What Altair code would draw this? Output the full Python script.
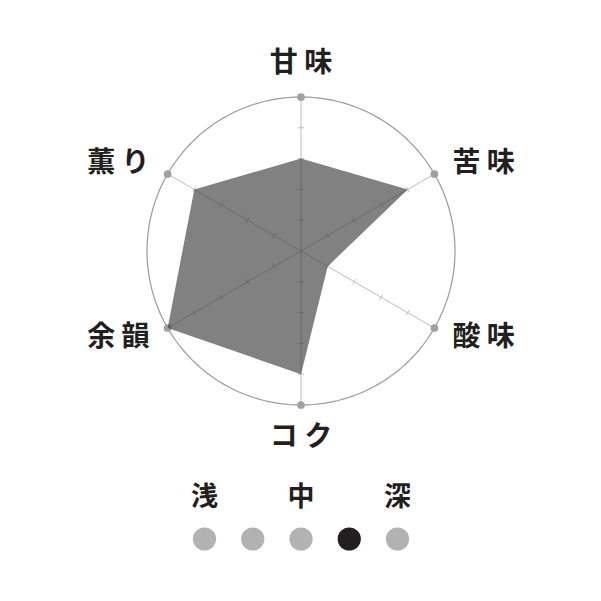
import altair as alt
import numpy as np
import pandas as pd

# ---- data ----
categories = ["甘味", "苦味", "酸味", "コク", "余韻", "薫り"]
values = [3, 4, 1, 4, 5, 4]
max_value = 5
tick_values = [1, 2, 3, 4]
roast_labels = ["浅", "中", "深"]
roast_label_slots = [0, 2, 4]
roast_slots = [0, 1, 2, 3, 4]
roast_selected = 3

# ---- geometry helpers (data units) ----
k = 154 / 5.0  # px per unit
W, H = 585, 585
cx, cy = 293, 243
xdom = [-cx / k, (W - cx) / k]
ydom = [-(H - cy) / k, cy / k]
sx = alt.Scale(domain=xdom, nice=False, zero=False)
sy = alt.Scale(domain=ydom, nice=False, zero=False)

ang = [np.deg2rad(90 - 60 * i) for i in range(len(categories))]

# outer circle
t = np.linspace(0, 2 * np.pi, 241)
circle = pd.DataFrame({"x": max_value * np.cos(t), "y": max_value * np.sin(t), "o": np.arange(len(t))})

# spokes
spokes = pd.DataFrame({
    "x": [0.0] * 6, "y": [0.0] * 6,
    "x2": [max_value * np.cos(a) for a in ang],
    "y2": [max_value * np.sin(a) for a in ang],
})

# tick marks
tick_rows = []
hl = 0.1
for a in ang:
    for v in tick_values:
        px, py = v * np.cos(a), v * np.sin(a)
        nx, ny = -np.sin(a), np.cos(a)
        tick_rows.append({"x": px - hl * nx, "y": py - hl * ny, "x2": px + hl * nx, "y2": py + hl * ny})
ticks = pd.DataFrame(tick_rows)

# end dots
ends = pd.DataFrame({"x": [max_value * np.cos(a) for a in ang], "y": [max_value * np.sin(a) for a in ang]})

# polygon
poly = pd.DataFrame({
    "x": [v * np.cos(a) for v, a in zip(values + [values[0]], ang + [ang[0]])],
    "y": [v * np.sin(a) for v, a in zip(values + [values[0]], ang + [ang[0]])],
    "o": list(range(len(values) + 1)),
})

# labels
lab_rows = []
for i, (c, a) in enumerate(zip(categories, ang)):
    r = 6.07 if i in (0, 3) else 5.68
    align = "center" if i in (0, 3) else ("left" if i in (1, 2) else "right")
    lab_rows.append({"x": r * np.cos(a), "y": r * np.sin(a), "t": " ".join(list(c)), "al": align})
labels = pd.DataFrame(lab_rows)

# roast legend
sp = 48.25 / k
roast_dots = pd.DataFrame({
    "x": [(s - 2) * sp for s in roast_slots],
    "y": [-288 / k] * len(roast_slots),
    "sel": ["y" if s == roast_selected else "n" for s in roast_slots],
})
roast_text = pd.DataFrame({
    "x": [(s - 2) * sp for s in roast_label_slots],
    "y": [-247 / k] * len(roast_labels),
    "t": roast_labels,
})

X = lambda f="x": alt.X(f"{f}:Q", scale=sx, axis=None)
Y = lambda f="y": alt.Y(f"{f}:Q", scale=sy, axis=None)

circle_l = alt.Chart(circle).mark_line(color="#9a9a9a", strokeWidth=1.2).encode(x=X(), y=Y(), order="o:Q")
spoke_l = alt.Chart(spokes).mark_rule(color="#bdbdbd", strokeWidth=1).encode(x=X(), y=Y(), x2="x2:Q", y2="y2:Q")
tick_l = alt.Chart(ticks).mark_rule(color="#bdbdbd", strokeWidth=1).encode(x=X(), y=Y(), x2="x2:Q", y2="y2:Q")
end_l = alt.Chart(ends).mark_circle(color="#a0a0a0", opacity=1, size=60).encode(x=X(), y=Y())
poly_l = alt.Chart(poly).mark_line(fill="#3a3a3a", fillOpacity=0.64, strokeWidth=0, stroke="#3a3a3a").encode(x=X(), y=Y(), order="o:Q")

lab_layers = []
for al in ["center", "left", "right"]:
    sub = labels[labels["al"] == al]
    lab_layers.append(
        alt.Chart(sub).mark_text(align=al, baseline="middle", font="Noto Sans CJK JP", fontSize=28,
                                 fontWeight="bold", color="#231f20").encode(x=X(), y=Y(), text="t:N")
    )

rdots = alt.Chart(roast_dots).mark_circle(size=540, opacity=1).encode(
    x=X(), y=Y(),
    color=alt.Color("sel:N", scale=alt.Scale(domain=["n", "y"], range=["#b2b2b2", "#231f20"]), legend=None),
)
rtext = alt.Chart(roast_text).mark_text(align="center", baseline="middle", font="Noto Sans CJK JP",
                                         fontSize=27, fontWeight="bold", color="#231f20").encode(x=X(), y=Y(), text="t:N")

chart = alt.layer(circle_l, spoke_l, tick_l, end_l, poly_l, *lab_layers, rdots, rtext).properties(
    width=W, height=H, padding=0
).configure_view(strokeWidth=0)

chart.save("out.html", embed_options={"renderer": "svg", "actions": False})
